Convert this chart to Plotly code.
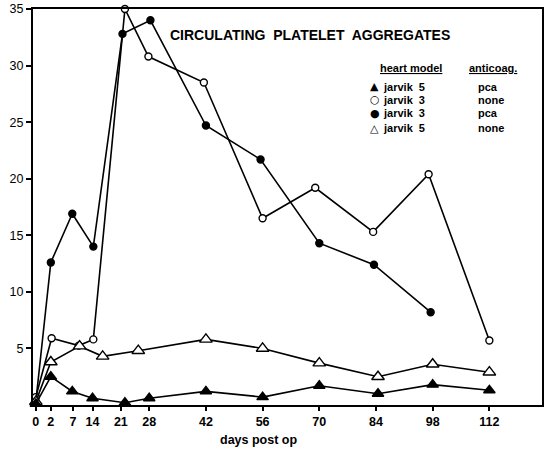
import plotly.graph_objects as go

# ---- data ----
tick_pos = [0, 3.7, 9.2, 14, 21, 28, 42, 56, 70, 84, 98, 112]
tick_labels = ["0", "2", "7", "14", "21", "28", "42", "56", "70", "84", "98", "112"]
y_ticks = [5, 10, 15, 20, 25, 30, 35]

j5_pca_x = [0, 3.7, 9.0, 14, 22, 28, 42, 56, 70, 84.5, 98, 112]
j5_pca_y = [0.1, 2.5, 1.2, 0.6, 0.2, 0.6, 1.2, 0.7, 1.7, 1.0, 1.8, 1.3]

j3_none_x = [0, 3.9, 10.6, 14.2, 22, 27.8, 41.5, 56, 69, 83.3, 97, 112]
j3_none_y = [0.7, 5.9, 5.25, 5.8, 35.0, 30.8, 28.5, 16.5, 19.2, 15.3, 20.4, 5.7]

j3_pca_x = [0, 3.7, 9.0, 14.2, 21.4, 28.3, 42, 55.5, 70, 83.5, 97.5]
j3_pca_y = [0.3, 12.6, 16.9, 14.0, 32.8, 34.0, 24.7, 21.7, 14.3, 12.4, 8.2]

j5_none_x = [0, 3.7, 10.8, 16.5, 25.3, 42, 56, 70, 84.5, 98, 112]
j5_none_y = [0.3, 3.8, 5.2, 4.3, 4.8, 5.8, 5.0, 3.7, 2.5, 3.6, 2.9]

legend_models = ["jarvik 5", "jarvik 3", "jarvik 3", "jarvik 5"]
legend_anticoag = ["pca", "none", "pca", "none"]
legend_symbols = ["▲", "○", "●", "△"]

FONT = "Liberation Sans, Arial, sans-serif"

fig = go.Figure()

def add(x, y, symbol, size, fill, lw=1.6):
    fig.add_trace(go.Scatter(
        x=x, y=y, mode="lines+markers",
        line=dict(color="black", width=lw),
        marker=dict(symbol=symbol, size=size, color=fill,
                    line=dict(color="black", width=1.4)),
        cliponaxis=False, showlegend=False))

add(j3_none_x, j3_none_y, "circle", 7, "white")
add(j3_pca_x, j3_pca_y, "circle", 7, "black")
add(j5_none_x, j5_none_y, "triangle-up", 11, "white")
add(j5_pca_x, j5_pca_y, "triangle-up", 10, "black")

fig.update_layout(
    width=546, height=451,
    margin=dict(l=33, r=2, t=7, b=46),
    paper_bgcolor="white", plot_bgcolor="white",
    font=dict(family=FONT, color="black", size=12),
    xaxis=dict(range=[-0.7, 125], tickmode="array", tickvals=tick_pos,
               ticktext=tick_labels, showgrid=False, zeroline=False,
               showline=True, linecolor="black", linewidth=2, mirror=True,
               ticks="outside", ticklen=4, tickwidth=1.5, tickcolor="black",
               tickfont=dict(size=12.5, family=FONT, weight="bold")),
    yaxis=dict(range=[0, 35], tickmode="array", tickvals=y_ticks,
               showgrid=False, zeroline=False,
               showline=True, linecolor="black", linewidth=2, mirror=True,
               ticks="outside", ticklen=5, tickwidth=1.5, tickcolor="black",
               tickfont=dict(size=12.5, family=FONT)),
)

def px_x(p):
    return (p - 33) / 511

def px_y(p):
    return (405 - p) / 398

# title
fig.add_annotation(text="CIRCULATING  PLATELET  AGGREGATES", xref="paper", yref="paper",
                   x=px_x(311), y=px_y(33), xanchor="center", yanchor="middle",
                   showarrow=False, font=dict(size=14, family=FONT, weight="bold"))
# x-axis title
fig.add_annotation(text="days post op", xref="paper", yref="paper",
                   x=px_x(259), y=px_y(440), xanchor="center", yanchor="middle",
                   showarrow=False, font=dict(size=12.5, family=FONT, weight="bold"))

fig.add_annotation(text="<u>heart model</u>", xref="paper", yref="paper",
                   x=px_x(379), y=px_y(66), xanchor="left", yanchor="middle",
                   showarrow=False, font=dict(size=11, family=FONT, weight="bold"))
fig.add_annotation(text="<u>anticoag.</u>", xref="paper", yref="paper",
                   x=px_x(469), y=px_y(66), xanchor="left", yanchor="middle",
                   showarrow=False, font=dict(size=11, family=FONT, weight="bold"))

row_y = [85, 98, 112, 127]
for sym, model, anti, ry in zip(legend_symbols, legend_models, legend_anticoag, row_y):
    fig.add_annotation(text=sym, xref="paper", yref="paper",
                       x=px_x(376), y=px_y(ry), xanchor="center", yanchor="middle",
                       showarrow=False, font=dict(size=11, family="DejaVu Sans"))
    fig.add_annotation(text=model.replace(" ", "  "), xref="paper", yref="paper",
                       x=px_x(382), y=px_y(ry), xanchor="left", yanchor="middle",
                       showarrow=False, font=dict(size=11, family=FONT, weight="bold"))
    fig.add_annotation(text=anti, xref="paper", yref="paper",
                       x=px_x(478), y=px_y(ry), xanchor="left", yanchor="middle",
                       showarrow=False, font=dict(size=11, family=FONT, weight="bold"))

fig.write_html("out.html")
